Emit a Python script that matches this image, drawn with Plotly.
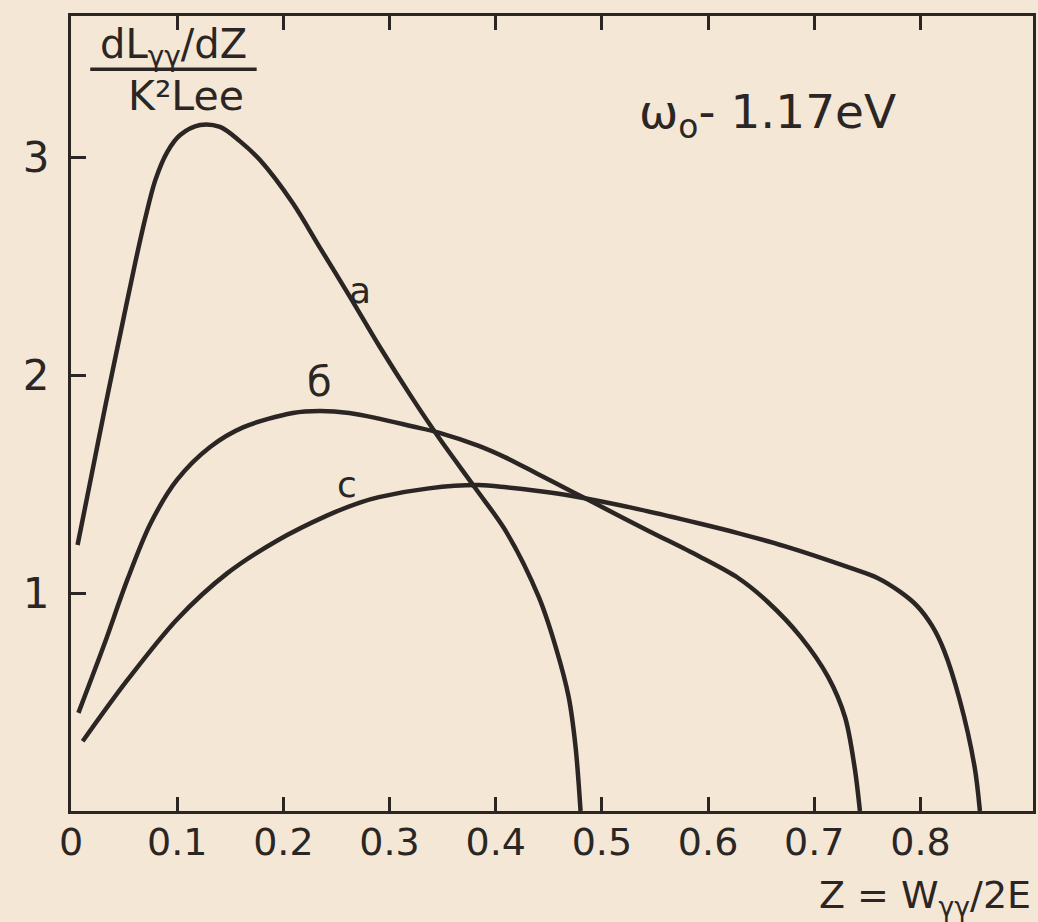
import plotly.graph_objects as go

# Curve a
z_a = [0.0062, 0.0184, 0.0325, 0.0466, 0.0606, 0.0700, 0.0794, 0.0906, 0.1028, 0.1216,
       0.1403, 0.159, 0.178, 0.2088, 0.2341, 0.2623, 0.2903, 0.3214, 0.3467, 0.3814,
       0.4095, 0.4405, 0.4565, 0.4687, 0.4752, 0.4799]
y_a = [1.220, 1.518, 1.862, 2.193, 2.518, 2.720, 2.894, 3.023, 3.101, 3.147,
       3.138, 3.073, 2.986, 2.789, 2.587, 2.362, 2.133, 1.894, 1.711, 1.477,
       1.284, 0.982, 0.752, 0.523, 0.294, 0.0]
# Curve b
z_b = [0.007, 0.031, 0.053, 0.075, 0.100, 0.131, 0.162, 0.209, 0.234, 0.262, 0.290,
       0.321, 0.347, 0.384, 0.410, 0.440, 0.472, 0.488, 0.544, 0.591, 0.628, 0.656,
       0.687, 0.713, 0.729, 0.738, 0.743]
y_b = [0.45, 0.76, 1.06, 1.32, 1.52, 1.67, 1.76, 1.826, 1.835, 1.826, 1.80,
       1.765, 1.735, 1.675, 1.62, 1.545, 1.465, 1.425, 1.285, 1.17, 1.07, 0.96,
       0.80, 0.615, 0.43, 0.20, 0.0]
# Curve c
z_c = [0.011, 0.053, 0.100, 0.147, 0.194, 0.241, 0.272, 0.290, 0.337, 0.384, 0.410,
       0.440, 0.472, 0.534, 0.591, 0.628, 0.672, 0.734, 0.7595, 0.781, 0.797, 0.811,
       0.822, 0.837, 0.851, 0.856]
y_c = [0.32, 0.60, 0.88, 1.09, 1.24, 1.355, 1.415, 1.44, 1.48, 1.495, 1.485,
       1.468, 1.445, 1.385, 1.32, 1.275, 1.215, 1.115, 1.069, 1.005, 0.940, 0.849,
       0.739, 0.509, 0.202, 0.0]

x_tickvals = [0, 0.1, 0.2, 0.3, 0.4, 0.5, 0.6, 0.7, 0.8]
x_ticktext = ["0", "0.1", "0.2", "0.3", "0.4", "0.5", "0.6", "0.7", "0.8"]
y_tickvals = [1, 2, 3]
y_ticktext = ["1", "2", "3"]

curve_labels = ["a", "б", "c"]
label_z = [0.272, 0.234, 0.260]
label_y = [2.39, 1.97, 1.50]
label_sizes = [36, 40, 36]

INK = "#2b2623"
PAPER = "#f4e7d6"
FONT = "DejaVu Sans"

fig = go.Figure()
for zs, ys in [(z_a, y_a), (z_b, y_b), (z_c, y_c)]:
    fig.add_trace(go.Scatter(x=zs, y=ys, mode="lines",
                             line=dict(color=INK, width=4.5, shape="spline", smoothing=0.9),
                             showlegend=False, hoverinfo="skip"))

for t, zx, yy, sz in zip(curve_labels, label_z, label_y, label_sizes):
    fig.add_annotation(x=zx, y=yy, text=t, showarrow=False,
                       font=dict(family=FONT, size=sz, color=INK))

def note(text, x, y, size, xanchor="center"):
    fig.add_annotation(xref="paper", yref="paper", x=x, y=y, text=text,
                       showarrow=False, xanchor=xanchor, yanchor="middle",
                       font=dict(family=FONT, size=size, color=INK))

note("ω<sub>o</sub>- 1.17eV", 0.7244, 0.8755, 47)
note("dL<sub>γγ</sub>/dZ", 0.107, 0.961, 40)
note("K²Lee", 0.120, 0.8995, 41)
note("Z = W<sub>γγ</sub>/2E", 1.0, -0.109, 38, xanchor="right")
fig.add_shape(type="line", xref="paper", yref="paper", x0=0.020, x1=0.193,
              y0=0.933, y1=0.933, line=dict(color=INK, width=3.5))

fig.update_layout(
    width=1038, height=922,
    margin=dict(l=71, r=2, t=16, b=111),
    paper_bgcolor=PAPER, plot_bgcolor=PAPER,
    font=dict(family=FONT, size=38, color=INK),
)
fig.update_xaxes(range=[0, 0.906], tickvals=x_tickvals, ticktext=x_ticktext,
                 ticks="inside", ticklen=14, tickwidth=2.5, tickcolor=INK,
                 showline=True, linecolor=INK, linewidth=3, mirror="ticks",
                 showgrid=False, zeroline=False, ticklabelstandoff=-5,
                 tickfont=dict(family=FONT, size=38, color=INK))
fig.update_yaxes(range=[0, 3.647], tickvals=y_tickvals, ticktext=y_ticktext,
                 ticks="inside", ticklen=15, tickwidth=2.5, tickcolor=INK,
                 showline=True, linecolor=INK, linewidth=3, mirror=True,
                 showgrid=False, zeroline=False, ticklabelstandoff=10,
                 tickfont=dict(family=FONT, size=42, color=INK))

fig.write_html("out.html", config={"displayModeBar": False},
               post_script="document.body.style.margin='0';"
                           "document.body.style.background='#f4e7d6';")
